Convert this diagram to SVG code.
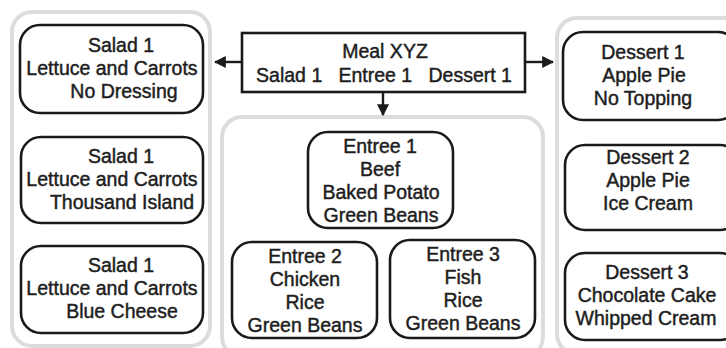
<svg xmlns="http://www.w3.org/2000/svg" width="726" height="348" viewBox="0 0 726 348">
<style>
.cont{fill:#ffffff;stroke:#dcdcdc;stroke-width:4}
.box{fill:#ffffff;stroke:#1a1a1a;stroke-width:2.6}
text{font-family:"Liberation Sans",Arial,sans-serif;font-size:19.5px;fill:#1e1e1e;stroke:#1e1e1e;stroke-width:0.45;text-anchor:middle}
.conn{stroke:#1a1a1a;stroke-width:2.4;fill:none}
</style>
<defs>
<marker id="ah" viewBox="0 0 10 10" refX="9" refY="5" markerWidth="5" markerHeight="5" orient="auto" markerUnits="strokeWidth">
<path d="M0,0 L10,5 L0,10 Z" fill="#1a1a1a"/>
</marker>
</defs>
<rect width="726" height="348" fill="#ffffff"/>
<g id="containers">
<rect class="cont" x="12" y="12" width="198" height="334" rx="20"/>
<rect class="cont" x="222" y="117" width="321" height="240" rx="20"/>
<rect class="cont" x="557" y="18" width="190" height="336" rx="20"/>
</g>
<g id="connectors">
<line class="conn" x1="242" y1="62" x2="215" y2="62" marker-end="url(#ah)"/>
<line class="conn" x1="525" y1="62" x2="553" y2="62" marker-end="url(#ah)"/>
<line class="conn" x1="383" y1="92" x2="383" y2="115" marker-end="url(#ah)"/>
</g>
<g id="meal">
<rect class="box" x="242" y="33" width="283" height="59" rx="0"/>
<text x="385" y="58">Meal XYZ</text>
<text x="384" y="82" xml:space="preserve">Salad 1   Entree 1   Dessert 1</text>
</g>
<g id="salad1">
<rect class="box" x="20" y="25" width="183" height="88" rx="20"/>
<text x="121" y="52">Salad 1</text>
<text x="112" y="75">Lettuce and Carrots</text>
<text x="124" y="98">No Dressing</text>
</g>
<g id="salad2">
<rect class="box" x="21" y="137" width="182" height="86" rx="20"/>
<text x="121" y="163">Salad 1</text>
<text x="112" y="186">Lettuce and Carrots</text>
<text x="122" y="209">Thousand Island</text>
</g>
<g id="salad3">
<rect class="box" x="21" y="246" width="182" height="87" rx="20"/>
<text x="121" y="272">Salad 1</text>
<text x="112" y="295">Lettuce and Carrots</text>
<text x="122" y="318">Blue Cheese</text>
</g>
<g id="entree1">
<rect class="box" x="308" y="132" width="145" height="96" rx="20"/>
<text x="380" y="153">Entree 1</text>
<text x="380" y="176">Beef</text>
<text x="381" y="199">Baked Potato</text>
<text x="381" y="222">Green Beans</text>
</g>
<g id="entree2">
<rect class="box" x="232" y="242" width="145" height="96" rx="20"/>
<text x="305" y="263">Entree 2</text>
<text x="305" y="286">Chicken</text>
<text x="305" y="309">Rice</text>
<text x="305" y="332">Green Beans</text>
</g>
<g id="entree3">
<rect class="box" x="390" y="240" width="145" height="98" rx="20"/>
<text x="463" y="261">Entree 3</text>
<text x="463" y="284">Fish</text>
<text x="463" y="307">Rice</text>
<text x="463" y="330">Green Beans</text>
</g>
<g id="dessert1">
<rect class="box" x="563" y="32" width="175" height="88" rx="20"/>
<text x="643" y="59">Dessert 1</text>
<text x="644" y="82">Apple Pie</text>
<text x="643" y="105">No Topping</text>
</g>
<g id="dessert2">
<rect class="box" x="565" y="145" width="175" height="85" rx="20"/>
<text x="648" y="164">Dessert 2</text>
<text x="648" y="187">Apple Pie</text>
<text x="648" y="210">Ice Cream</text>
</g>
<g id="dessert3">
<rect class="box" x="565" y="253" width="175" height="87" rx="20"/>
<text x="647" y="279">Dessert 3</text>
<text x="647" y="302">Chocolate Cake</text>
<text x="646" y="325">Whipped Cream</text>
</g>
</svg>
